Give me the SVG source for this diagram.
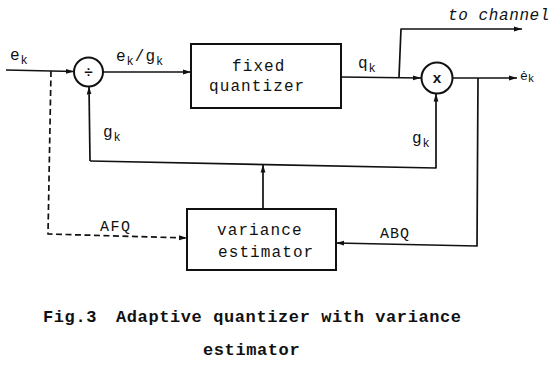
<svg xmlns="http://www.w3.org/2000/svg" width="551" height="370" viewBox="0 0 551 370">
<style>
  .ln { fill: none; stroke: #111; stroke-width: 1.7; stroke-linejoin: round; }
  .dash { stroke-dasharray: 6 3.5; }
  .box { fill: #fff; stroke: #111; stroke-width: 2; }
  .t { font-family: "Liberation Mono", "DejaVu Sans Mono", monospace; fill: #111; }
  .lbl { font-size: 16px; letter-spacing: 1px; }
  .blk { font-size: 16px; letter-spacing: 1.1px; }
  .sub { font-size: 12px; }
  .cap { font-size: 17px; font-weight: bold; letter-spacing: 0.6px; }
</style>
<defs>
  <marker id="ah" viewBox="0 0 8 6" refX="8" refY="3" markerWidth="8" markerHeight="6" markerUnits="userSpaceOnUse" orient="auto">
    <path d="M0,0.6 L8,3 L0,5.4 z" fill="#111"/>
  </marker>
</defs>

<g id="connectors">
  <path class="ln" d="M6,70 L74,71.5" marker-end="url(#ah)"/>
  <path class="ln" d="M103,72 L191,72" marker-end="url(#ah)"/>
  <path class="ln" d="M341,77 L421,78" marker-end="url(#ah)"/>
  <path class="ln" d="M399,77 L401,29 L522,29" marker-end="url(#ah)"/>
  <path class="ln" d="M452.5,78 L517,78" marker-end="url(#ah)"/>
  <path class="ln" d="M478,78 L477,246 L336,243" marker-end="url(#ah)"/>
  <path class="ln" d="M90,161 L89,86.5" marker-end="url(#ah)"/>
  <path class="ln" d="M90,161 L436,168 L436,93.5" marker-end="url(#ah)"/>
  <path class="ln" d="M263,209 L263,164.5" marker-end="url(#ah)"/>
  <path class="ln dash" d="M51,71 L48,234 L187,238" marker-end="url(#ah)"/>
</g>

<g id="divider">
  <circle cx="88.5" cy="72" r="14.5" class="box" stroke-width="1.8"/>
  <text class="t" x="88.5" y="77" font-size="15" text-anchor="middle" font-weight="bold">÷</text>
</g>

<g id="fixed-quantizer">
  <rect x="191" y="44" width="150" height="64" class="box"/>
  <text class="t blk" x="232" y="71">fixed</text>
  <text class="t blk" x="209" y="91">quantizer</text>
</g>

<g id="multiplier">
  <circle cx="437" cy="78" r="15.5" class="box" stroke-width="1.8"/>
  <text class="t" x="437" y="83" font-size="15" text-anchor="middle" font-weight="bold">x</text>
</g>

<g id="variance-estimator">
  <rect x="187" y="209" width="149" height="61" class="box"/>
  <text class="t blk" x="217" y="235">variance</text>
  <text class="t blk" x="218" y="257">estimator</text>
</g>

<g id="labels">
  <text class="t lbl" x="10" y="60">e<tspan class="sub" dy="4">k</tspan></text>
  <text class="t lbl" x="116" y="61">e<tspan class="sub" dy="4">k</tspan><tspan dy="-4">/g</tspan><tspan class="sub" dy="4">k</tspan></text>
  <text class="t lbl" x="103" y="137">g<tspan class="sub" dy="4">k</tspan></text>
  <text class="t lbl" x="358" y="68">q<tspan class="sub" dy="4">k</tspan></text>
  <text class="t lbl" x="412" y="143">g<tspan class="sub" dy="4">k</tspan></text>
  <text class="t" x="448" y="20" font-size="16" letter-spacing="0.6" font-style="italic">to channel</text>
  <text class="t" x="520" y="80" font-size="13">ė<tspan font-size="11" dy="2">k</tspan></text>
  <text class="t" x="100" y="231" font-size="15" letter-spacing="1.5">AFQ</text>
  <text class="t" x="380" y="238" font-size="15" letter-spacing="1">ABQ</text>
</g>

<g id="caption">
  <text class="t cap" x="43" y="322">Fig.3</text>
  <text class="t cap" x="116" y="322">Adaptive quantizer with variance</text>
  <text class="t cap" x="203" y="355">estimator</text>
</g>
</svg>
